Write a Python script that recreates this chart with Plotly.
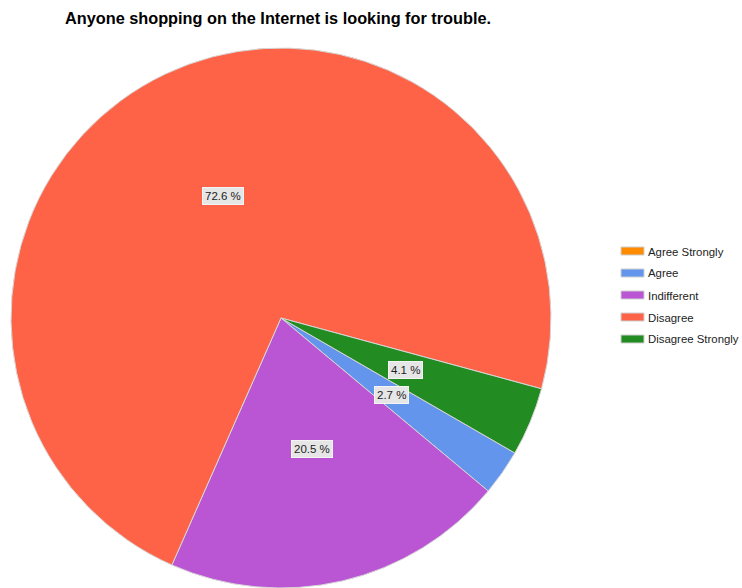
import math
import plotly.graph_objects as go

# Survey responses
categories = ["Agree Strongly", "Agree", "Indifferent", "Disagree", "Disagree Strongly"]
counts = [0, 2, 15, 53, 3]
colors = ["#FF8C00", "#6495ED", "#BA55D3", "#FF6347", "#228B22"]
title_text = "Anyone shopping on the Internet is looking for trouble."

W, H = 742, 588
FONT = "Liberation Sans, Arial, sans-serif"

# Pie placement (pixels)
pie_left, pie_right, pie_top, pie_bottom = 11, 551, 48, 588
start_deg = 120  # clockwise from 12 o'clock

dom_x = [pie_left / W, pie_right / W]
dom_y = [1 - pie_bottom / H, 1 - pie_top / H]

fig = go.Figure()
fig.add_trace(go.Pie(
    labels=categories,
    values=counts,
    marker=dict(colors=colors, line=dict(color="#d6d6d6", width=1)),
    sort=False,
    direction="clockwise",
    rotation=start_deg,
    textinfo="none",
    hoverinfo="label+percent",
    showlegend=False,
    domain=dict(x=dom_x, y=dom_y),
))

# Percentage labels at half radius along each slice's mid-angle
total = sum(counts)
cx_px = (pie_left + pie_right) / 2
cy_px = (pie_top + pie_bottom) / 2
radius_px = min(pie_right - pie_left, pie_bottom - pie_top) / 2
angle = start_deg - 90  # screen angle, clockwise from 3 o'clock
for cat, v in zip(categories, counts):
    sweep = v / total * 360
    if v > 0:
        mid = math.radians(angle + sweep / 2)
        px = cx_px + 0.5 * radius_px * math.cos(mid)
        py = cy_px + 0.5 * radius_px * math.sin(mid)
        fig.add_annotation(
            x=px / W, y=1 - py / H, xref="paper", yref="paper",
            xanchor="center", yanchor="middle",
            text=f"{v / total * 100:.1f} %", showarrow=False,
            font=dict(family=FONT, size=11.5, color="#222222"),
            bgcolor="#e6e6e6", bordercolor="#f4f4f4", borderwidth=1, borderpad=2,
        )
    angle += sweep

# Legend: swatches and labels
leg_x0, leg_y0, leg_step = 621, 251, 22
sw_w, sw_h = 23, 8
for i, (cat, col) in enumerate(zip(categories, colors)):
    yc = leg_y0 + i * leg_step
    fig.add_shape(
        type="rect", xref="paper", yref="paper",
        x0=leg_x0 / W, x1=(leg_x0 + sw_w) / W,
        y0=1 - (yc + sw_h / 2) / H, y1=1 - (yc - sw_h / 2) / H,
        fillcolor=col, line=dict(color="#cfcfcf", width=1),
    )
    fig.add_annotation(
        x=(leg_x0 + sw_w + 2) / W, y=1 - (yc + 0.5) / H, xref="paper", yref="paper",
        text=cat, showarrow=False, xanchor="left", yanchor="middle",
        font=dict(family=FONT, size=11.4, color="#222222"),
    )

fig.update_layout(
    width=W, height=H,
    margin=dict(l=0, r=0, t=0, b=0),
    paper_bgcolor="white", plot_bgcolor="white",
    title=dict(
        text=f"<b>{title_text}</b>",
        x=65 / W, xanchor="left", y=1 - 18 / H, yanchor="middle",
        font=dict(family=FONT, size=16.3, color="black"),
    ),
    showlegend=False,
)

fig.write_html("out.html")
